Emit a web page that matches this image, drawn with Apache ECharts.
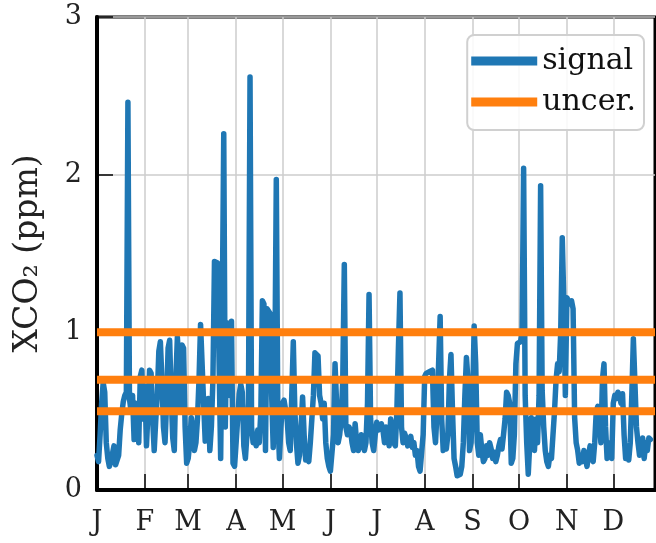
<!DOCTYPE html>
<html>
<head>
<meta charset="utf-8">
<title>XCO2 signal</title>
<script src="https://cdn.jsdelivr.net/npm/echarts@6/dist/echarts.min.js"></script>
<style>
	html,body{margin:0;padding:0;background:#fff;}
	#chart{width:656px;height:543px;}
</style>
</head>
<body>
<div id="chart"></div>
<script>
/*月份标签及每月起始日*/
var monthLabels=["J","F","M","A","M","J","J","A","S","O","N","D"];
var monthStarts=[0,31,59,90,120,151,181,212,243,273,304,334];
var dayCount=362;
/*y轴刻度*/
var yTicks=[0,1,2,3];
/*不确定度水平线*/
var uncerLevels=[0.5,0.7,1.0];
/*逐日信号值 (ppm)*/
var signalValues=[
	0.22,0.18,0.35,0.55,0.68,0.62,0.30,0.20,0.15,0.18,
	0.17,0.28,0.16,0.15,0.22,0.38,0.48,0.56,0.60,0.62,
	2.46,0.58,0.50,0.60,0.32,0.55,0.52,0.30,0.72,0.76,
	0.45,0.66,0.28,0.50,0.76,0.74,0.45,0.25,0.44,0.60,
	0.88,0.94,0.70,0.40,0.30,0.55,0.90,0.95,0.60,0.33,
	0.25,0.70,0.97,0.80,0.50,0.92,0.90,0.40,0.17,0.20,
	0.30,0.46,0.40,0.25,0.30,0.45,0.70,1.05,1.06,0.55,
	0.31,0.50,0.58,0.25,0.40,0.70,1.45,1.46,1.44,0.80,
	0.20,1.10,2.26,0.40,1.06,1.05,0.60,1.07,0.17,0.15,
	0.30,0.45,0.61,0.67,0.62,0.28,0.20,0.35,0.55,2.62,
	0.40,0.30,0.35,0.28,0.38,0.30,0.50,1.20,1.18,0.25,
	1.15,1.14,1.12,0.60,0.27,0.70,1.97,0.45,0.20,0.40,
	0.55,0.57,0.56,0.45,0.30,0.25,0.60,0.94,0.50,0.30,
	0.17,0.22,0.40,0.59,0.35,0.19,0.22,0.18,0.30,0.45,
	0.60,0.87,0.86,0.85,0.60,0.55,0.45,0.55,0.30,0.20,
	0.15,0.12,0.11,0.35,0.80,0.55,0.30,0.35,0.45,0.70,
	1.43,0.40,0.35,0.40,0.38,0.30,0.25,0.42,0.30,0.25,
	0.28,0.35,0.30,0.25,0.30,0.55,1.24,0.45,0.30,0.25,
	0.35,0.43,0.38,0.40,0.42,0.38,0.30,0.40,0.35,0.28,
	0.45,0.40,0.30,0.28,0.50,0.90,1.25,0.40,0.30,0.36,
	0.33,0.28,0.30,0.34,0.27,0.30,0.22,0.25,0.15,0.12,
	0.11,0.35,0.72,0.74,0.73,0.75,0.74,0.76,0.40,0.30,
	0.50,0.80,1.10,0.45,0.25,0.30,0.26,0.35,0.70,0.86,
	0.50,0.20,0.15,0.09,0.08,0.10,0.15,0.30,0.60,0.84,
	0.70,0.25,0.30,0.55,1.04,0.80,0.30,0.22,0.35,0.25,
	0.18,0.20,0.28,0.22,0.30,0.26,0.20,0.24,0.18,0.22,
	0.28,0.32,0.26,0.35,0.45,0.62,0.60,0.55,0.17,0.20,
	0.35,0.80,0.93,0.92,0.94,1.00,2.04,0.60,0.30,0.10,
	0.30,0.46,0.35,0.25,0.45,0.30,0.60,1.93,0.63,0.40,
	0.25,0.18,0.15,0.22,0.20,0.35,0.50,0.70,0.80,0.75,
	1.00,1.60,1.20,0.60,1.22,1.20,1.18,1.20,1.15,0.46,
	0.30,0.25,0.17,0.22,0.18,0.25,0.20,0.15,0.22,0.28,
	0.20,0.18,0.30,0.50,0.53,0.45,0.30,0.70,0.80,0.40,
	0.20,0.25,0.30,0.20,0.55,0.60,0.58,0.62,0.60,0.55,
	0.61,0.35,0.20,0.25,0.19,0.30,0.60,0.96,0.95,0.40,
	0.30,0.22,0.25,0.33,0.20,0.30,0.25,0.33,0.32
];

var serifFont="DejaVu Serif";
var days=[];
for(var i=0;i<dayCount;i++){days.push(String(i));}
var isMonthStart=function(idx){return monthStarts.indexOf(idx)>=0;};

/*构造序列*/
var seriesList=[{
	name:"signal",
	type:"line",
	data:signalValues,
	symbol:"none",
	z:2,
	lineStyle:{color:"#1f77b4",width:5.5,join:"round",cap:"round"},
	itemStyle:{color:"#1f77b4"}
}];
for(var n=0;n<uncerLevels.length;n++){
	var flat=[];
	for(var k=0;k<dayCount;k++){flat.push(uncerLevels[n]);}
	seriesList.push({
		name:"uncer.",
		type:"line",
		data:flat,
		symbol:"none",
		z:3,
		lineStyle:{color:"#ff7f0e",width:8},
		itemStyle:{color:"#ff7f0e"}
	});
}

var chart=echarts.init(document.getElementById("chart"),null,{renderer:"canvas"});
var option={
	animation:false,
	backgroundColor:"#fff",
	grid:{left:97,right:1,top:17,bottom:53,show:true,borderColor:"#000",borderWidth:3},
	legend:{
		data:["signal","uncer."],
		orient:"vertical",
		right:12,
		top:35,
		icon:"rect",
		itemWidth:66,
		itemHeight:9,
		itemGap:11,
		padding:[11,8,13,4],
		backgroundColor:"rgba(255,255,255,0.85)",
		borderColor:"#d0d0d0",
		borderWidth:2,
		borderRadius:7,
		textStyle:{fontFamily:serifFont,fontSize:30,color:"#111"}
	},
	xAxis:{
		type:"category",
		data:days,
		boundaryGap:false,
		axisLine:{lineStyle:{color:"#000",width:4}},
		axisTick:{inside:true,length:16,interval:function(idx){return isMonthStart(idx);},lineStyle:{color:"#000",width:1.5}},
		axisLabel:{
			interval:function(idx){return isMonthStart(idx);},
			formatter:function(val,idx){return monthLabels[monthStarts.indexOf(idx)];},
			fontFamily:serifFont,fontSize:27,color:"#222",margin:19
		},
		splitLine:{show:true,interval:function(idx){return isMonthStart(idx);},lineStyle:{color:"#cccccc",width:1.5}}
	},
	yAxis:{
		type:"value",
		min:yTicks[0],
		max:yTicks[yTicks.length-1],
		interval:1,
		name:"XCO\u2082 (ppm)",
		nameLocation:"middle",
		nameRotate:90,
		nameGap:52,
		nameTextStyle:{fontFamily:serifFont,fontSize:33,color:"#222"},
		axisLine:{show:true,lineStyle:{color:"#000",width:4}},
		axisTick:{show:true,inside:true,length:16,lineStyle:{color:"#000",width:1.5}},
		axisLabel:{fontFamily:serifFont,fontSize:27,color:"#222",margin:15},
		splitLine:{show:true,lineStyle:{color:"#cccccc",width:1.5}}
	},
	series:seriesList
};
chart.setOption(option);
</script>
</body>
</html>
